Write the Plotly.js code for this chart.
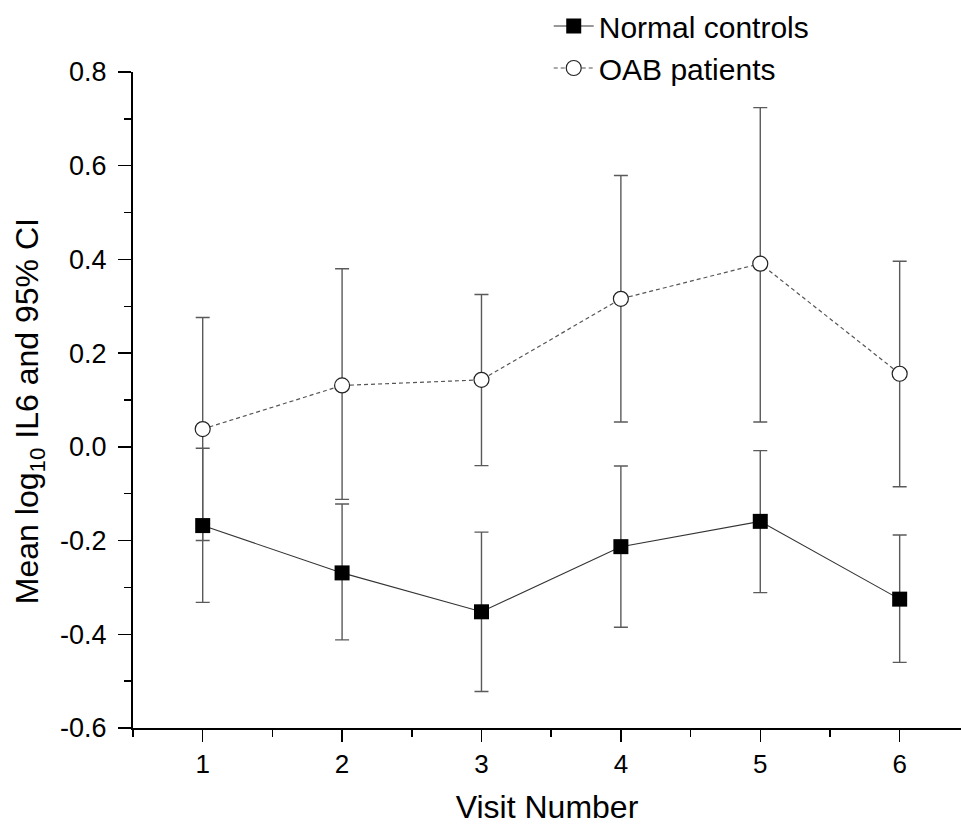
<!DOCTYPE html>
<html>
<head>
<meta charset="utf-8">
<script src="https://cdn.plot.ly/plotly-3.0.1.min.js"></script>
<style>
  html, body { margin: 0; padding: 0; background: #fff; overflow: hidden; }
  #chart { width: 961px; height: 825px; }
</style>
</head>
<body>
<div id="chart"></div>
<script>
// Visit numbers
const visits = [1, 2, 3, 4, 5, 6];

// Normal controls: mean log10 IL6 and 95% CI bounds
const normalMean  = [-0.168, -0.269, -0.352, -0.213, -0.159, -0.325];
const normalLower = [-0.332, -0.412, -0.522, -0.385, -0.311, -0.460];
const normalUpper = [-0.003, -0.122, -0.182, -0.041, -0.008, -0.188];

// OAB patients: mean log10 IL6 and 95% CI bounds
const oabMean  = [0.038, 0.131, 0.143, 0.316, 0.391, 0.156];
const oabLower = [-0.200, -0.112, -0.040, 0.053, 0.053, -0.085];
const oabUpper = [0.276, 0.380, 0.325, 0.579, 0.724, 0.396];

const seriesNames = ["Normal controls", "OAB patients"];

// Y tick values and labels (hyphen minus as in the original)
const yTickVals   = [-0.6, -0.4, -0.2, 0.0, 0.2, 0.4, 0.6, 0.8];
const yTickLabels = ["-0.6", "-0.4", "-0.2", "0.0", "0.2", "0.4", "0.6", "0.8"];

const FONT = "Liberation Sans, Arial, Helvetica, sans-serif";

function plus(mean, upper) { return upper.map((u, i) => u - mean[i]); }
function minus(mean, lower) { return lower.map((l, i) => mean[i] - l); }

const oabTrace = {
  x: visits, y: oabMean, type: "scatter", mode: "lines+markers",
  name: seriesNames[1], legendrank: 2,
  line: { color: "#555555", width: 1.2, dash: "4px,3px" },
  marker: { symbol: "circle", size: 15, color: "#ffffff", line: { color: "#222222", width: 1.2 } },
  error_y: { type: "data", symmetric: false, array: plus(oabMean, oabUpper), arrayminus: minus(oabMean, oabLower),
             color: "#5a5a5a", thickness: 1.4, width: 7 }
};
const normalTrace = {
  x: visits, y: normalMean, type: "scatter", mode: "lines+markers",
  name: seriesNames[0], legendrank: 1,
  line: { color: "#333333", width: 1.1 },
  marker: { symbol: "square", size: 15, color: "#000000", line: { color: "#000000", width: 0 } },
  error_y: { type: "data", symmetric: false, array: plus(normalMean, normalUpper), arrayminus: minus(normalMean, normalLower),
             color: "#5a5a5a", thickness: 1.4, width: 7 }
};

const layout = {
  width: 961, height: 825,
  margin: { l: 133, r: 0, t: 72, b: 97, autoexpand: false },
  paper_bgcolor: "#ffffff", plot_bgcolor: "#ffffff",
  font: { family: FONT, color: "#000000" },
  showlegend: true,
  legend: {
    xref: "container", yref: "container",
    x: 0.571, y: 1.004, xanchor: "left", yanchor: "top",
    font: { family: FONT, size: 30, color: "#000000" },
    bgcolor: "rgba(0,0,0,0)", tracegroupgap: 0, itemwidth: 40
  },
  xaxis: {
    range: [0.5, 6.44], showgrid: false, zeroline: false, automargin: false,
    showline: true, linecolor: "#000000", linewidth: 2,
    tickmode: "linear", tick0: 1, dtick: 1,
    ticks: "outside", ticklen: 12, tickwidth: 1.5, tickcolor: "#000000",
    minor: { tick0: 0.5, dtick: 0.5, ticks: "outside", ticklen: 7, tickwidth: 1.5, tickcolor: "#000000" },
    tickfont: { family: FONT, size: 26, color: "#000000" },
    title: { text: "Visit Number", font: { family: FONT, size: 32, color: "#000000" }, standoff: 22 }
  },
  yaxis: {
    range: [-0.6, 0.8], showgrid: false, zeroline: false, automargin: false,
    showline: true, linecolor: "#000000", linewidth: 2,
    tickmode: "array", tickvals: yTickVals, ticktext: yTickLabels,
    ticks: "outside", ticklen: 13, tickwidth: 1.5, tickcolor: "#000000",
    ticklabelstandoff: 6,
    minor: { tickmode: "linear", tick0: 0, dtick: 0.1, ticks: "outside", ticklen: 7, tickwidth: 1.5, tickcolor: "#000000" },
    tickfont: { family: FONT, size: 27, color: "#000000" }
  },
  annotations: [{
    text: "Mean log<sub>10</sub> IL6 and 95% CI",
    xref: "paper", yref: "paper", x: -0.1256, y: 0.483,
    xanchor: "center", yanchor: "middle", textangle: -90, showarrow: false,
    font: { family: FONT, size: 32, color: "#000000" }
  }]
};

Plotly.newPlot("chart", [oabTrace, normalTrace], layout, { displayModeBar: false, staticPlot: true });
</script>
</body>
</html>
